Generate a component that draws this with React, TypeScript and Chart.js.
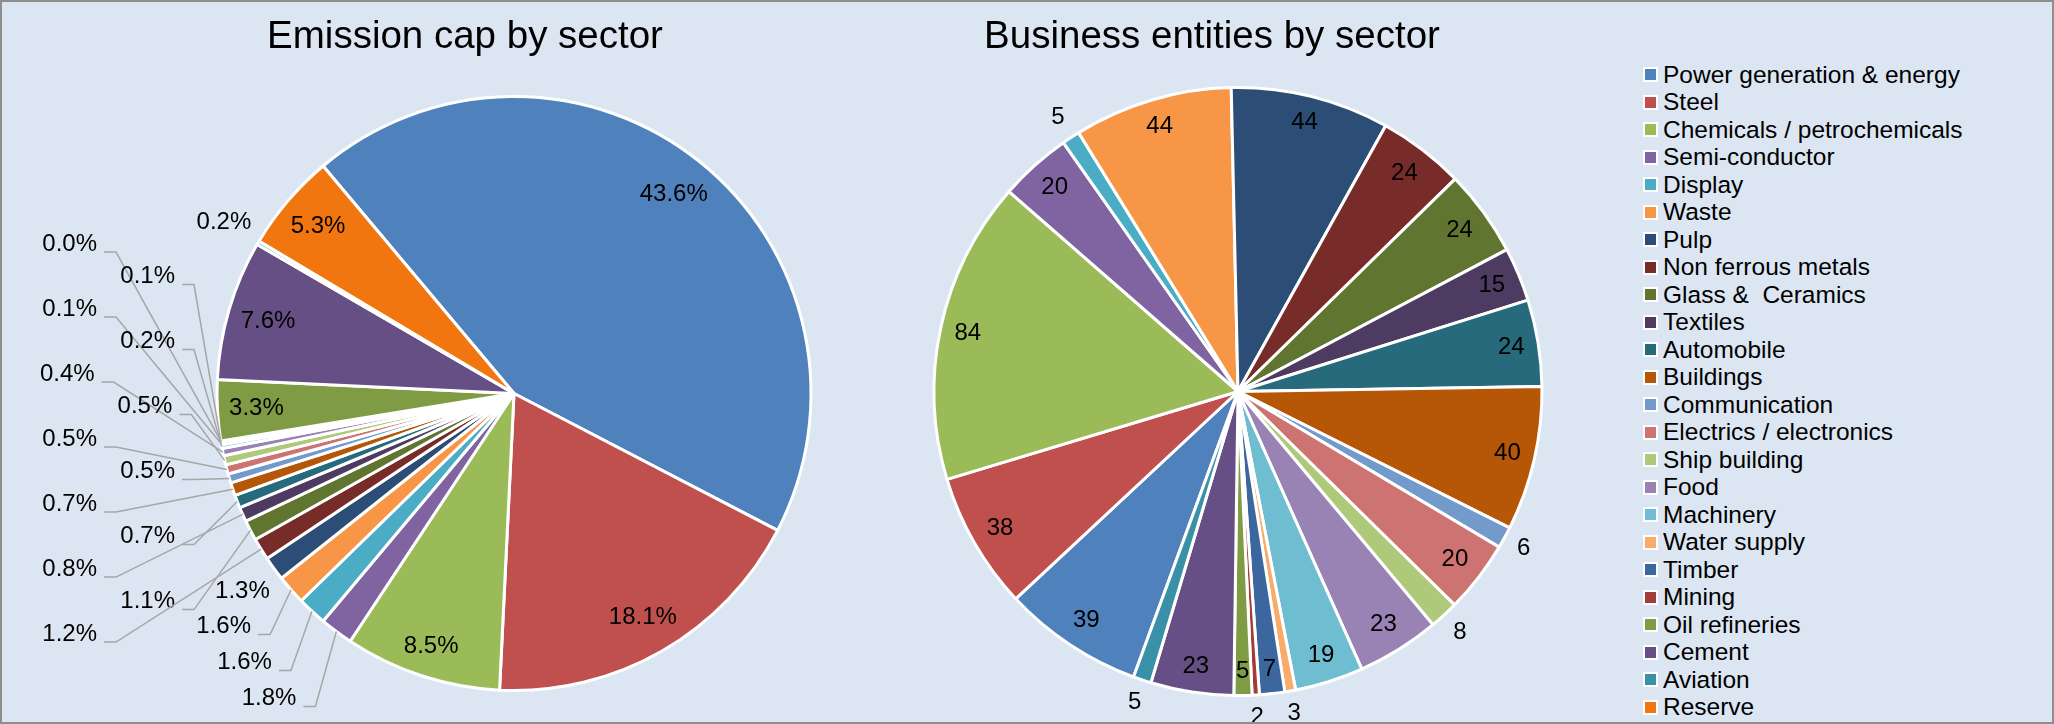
import React, { useEffect, useRef } from 'react';
import { Chart, registerables } from 'chart.js';

Chart.register(...registerables);

// ---------- data ----------
const sectors = [
  'Power generation & energy',
  'Steel',
  'Chemicals / petrochemicals',
  'Semi-conductor',
  'Display',
  'Waste',
  'Pulp',
  'Non ferrous metals',
  'Glass &  Ceramics',
  'Textiles',
  'Automobile',
  'Buildings',
  'Communication',
  'Electrics / electronics',
  'Ship building',
  'Food',
  'Machinery',
  'Water supply',
  'Timber',
  'Mining',
  'Oil refineries',
  'Cement',
  'Aviation',
  'Reserve',
];

// Emission cap share by sector (%)
const capSharePct = [
  43.6, 18.1, 8.5, 1.8, 1.6, 1.6, 1.3, 1.2, 1.1, 0.8, 0.7, 0.7,
  0.5, 0.5, 0.5, 0.4, 0.2, 0.1, 0.1, 0.0, 3.3, 7.6, 0.2, 5.3,
];

// Number of business entities by sector
const entityCounts = [
  39, 38, 84, 20, 5, 44, 44, 24, 24, 15, 24, 40,
  6, 20, 8, 23, 19, 3, 7, 2, 5, 23, 5, 0,
];

const chartTitles = ['Emission cap by sector', 'Business entities by sector'];

// ---------- styles ----------
const sectorColors = [
  '#4F81BD', '#C0504D', '#9BBB59', '#8064A2', '#4BACC6', '#F79646',
  '#2C4D75', '#772C2A', '#5F7530', '#4D3B62', '#276A7C', '#B65708',
  '#729ACA', '#CD7371', '#AFC97A', '#9983B5', '#6FBDD1', '#F9AB6B',
  '#3B679E', '#A33B38', '#7F9C45', '#654F85', '#3891A7', '#F2760F',
];

type Placement = 'in' | 'out' | 'leader' | 'none';

const capPlacements: Placement[] = [
  'in', 'in', 'in', 'leader', 'leader', 'leader', 'out', 'leader', 'leader', 'leader', 'leader', 'leader',
  'leader', 'leader', 'leader', 'leader', 'leader', 'leader', 'leader', 'leader', 'in', 'in', 'out', 'in',
];
const entityPlacements: Placement[] = [
  'in', 'in', 'in', 'in', 'out', 'in', 'in', 'in', 'in', 'in', 'in', 'in',
  'out', 'in', 'out', 'in', 'in', 'out', 'in', 'out', 'in', 'in', 'out', 'none',
];

const FONT = '"Liberation Sans", Arial, Helvetica, sans-serif';
const BG = '#DCE6F2';

interface LabelSettings {
  placements: Placement[];
  decimals: number;
  suffix: string;
  fontSize: number;
  insideMargin: number;
  outsideGap: number;
  title: string;
  titleX: number;
  titleY: number;
  titleSize: number;
}

// leader-label layout (left side of a pie)
const leaderLayout = {
  belowThreshold: 0.8, // anchors right of cx - 0.8R go to the lower stack
  sideOffset: 20,
  sideGap: 32.5,
  sideMaxFrac: 0.81,
  sideMargin: 45,
  sideEdgeGap: 42,
  sideColOffset: 78,
  belowDrop: 38,
  belowGap: 36,
  belowMaxBelow: 8,
  belowMargin: 40,
};

function stack(ys: number[], gap: number, maxY: number) {
  const n = ys.length;
  for (let k = 1; k < n; k++) ys[k] = Math.max(ys[k], ys[k - 1] + gap);
  if (n) ys[n - 1] = Math.min(ys[n - 1], maxY);
  for (let k = n - 2; k >= 0; k--) ys[k] = Math.min(ys[k], ys[k + 1] - gap);
  return ys;
}

function makeLabelPlugin(s: LabelSettings) {
  return {
    id: 'sectorLabels',
    afterDatasetsDraw(chart: any) {
      const ctx: CanvasRenderingContext2D = chart.ctx;
      const meta = chart.getDatasetMeta(0);
      const values: number[] = chart.data.datasets[0].data;
      ctx.save();
      ctx.fillStyle = '#000';
      ctx.textBaseline = 'middle';
      ctx.font = `${s.fontSize}px ${FONT}`;
      const h = s.fontSize;
      const leaders: any[] = [];
      meta.data.forEach((arc: any, i: number) => {
        const p = s.placements[i] || 'none';
        if (p === 'none') return;
        const { x, y, startAngle, endAngle, outerRadius } = arc.getProps(
          ['x', 'y', 'startAngle', 'endAngle', 'outerRadius'],
          true
        );
        const mid = (startAngle + endAngle) / 2;
        const c = Math.cos(mid);
        const sn = Math.sin(mid);
        const text = Number(values[i]).toFixed(s.decimals) + s.suffix;
        const w = ctx.measureText(text).width;
        const ext = (Math.abs(c) * w) / 2 + (Math.abs(sn) * h) / 2;
        ctx.textAlign = 'center';
        if (p === 'in') {
          const r = outerRadius - s.insideMargin - ext;
          ctx.fillText(text, x + c * r, y + sn * r);
        } else if (p === 'out') {
          const r = outerRadius + s.outsideGap + ext;
          ctx.fillText(text, x + c * r, y + sn * r);
        } else {
          leaders.push({
            i,
            text,
            cx: x,
            cy: y,
            R: outerRadius,
            ax: x + c * outerRadius,
            ay: y + sn * outerRadius,
            ty: y + sn * (outerRadius + leaderLayout.sideOffset),
          });
        }
      });
      if (leaders.length) {
        const L = leaderLayout;
        const { cx, cy, R } = leaders[0];
        const below = leaders.filter((l) => l.ax > cx - L.belowThreshold * R).sort((a, b) => a.ay - b.ay);
        const side = leaders
          .filter((l) => l.ax <= cx - L.belowThreshold * R)
          .sort((a, b) => a.ty - b.ty || b.i - a.i);
        const sideY = stack(side.map((l) => l.ty), L.sideGap, cy + L.sideMaxFrac * R);
        const belowY = stack(below.map((l) => l.ay + L.belowDrop), L.belowGap, cy + R + L.belowMaxBelow);
        const placed: any[] = [];
        side.forEach((l, k) => {
          const y = sideY[k];
          const dy = y - cy;
          const ex = Math.abs(dy) < R ? cx - Math.sqrt(R * R - dy * dy) : cx;
          const base = Math.min(ex, l.ax);
          const inner = Math.min(base - L.sideMargin, cx - R - L.sideEdgeGap);
          const right = inner - (k % 2 === 0 ? L.sideColOffset : 0);
          placed.push({ l, y, right });
        });
        below.forEach((l, k) => {
          placed.push({ l, y: belowY[k], right: l.ax - L.belowMargin });
        });
        ctx.strokeStyle = '#A6A6A6';
        ctx.lineWidth = 1.5;
        ctx.textAlign = 'right';
        placed.forEach(({ l, y, right }) => {
          ctx.fillText(l.text, right, y);
          const yb = y + 8;
          ctx.beginPath();
          ctx.moveTo(right + 7, yb);
          ctx.lineTo(right + 19, yb);
          ctx.lineTo(l.ax, l.ay);
          ctx.stroke();
        });
      }
      ctx.font = `${s.titleSize}px ${FONT}`;
      ctx.textBaseline = 'alphabetic';
      ctx.textAlign = 'center';
      ctx.fillText(s.title, s.titleX, s.titleY);
      ctx.restore();
    },
  };
}

interface PieProps {
  values: number[];
  left: number;
  width: number;
  height: number;
  rotation: number;
  radius: number;
  padding: { left: number; right: number; top: number; bottom: number };
  labels: LabelSettings;
}

function SectorPie(props: PieProps) {
  const ref = useRef<HTMLCanvasElement | null>(null);
  useEffect(() => {
    if (!ref.current) return;
    const chart = new Chart(ref.current, {
      type: 'pie',
      data: {
        labels: sectors,
        datasets: [
          {
            data: props.values,
            backgroundColor: sectorColors,
            borderColor: '#FFFFFF',
            borderWidth: 3,
          },
        ],
      },
      options: {
        animation: false,
        responsive: false,
        rotation: props.rotation,
        radius: props.radius,
        layout: { padding: props.padding },
        plugins: {
          legend: { display: false },
          title: { display: false },
          tooltip: { enabled: false },
        },
      },
      plugins: [makeLabelPlugin(props.labels)],
    } as any);
    return () => chart.destroy();
  }, []);
  return (
    <div
      style={{
        position: 'absolute',
        left: props.left,
        top: 0,
        width: props.width,
        height: props.height,
      }}
    >
      <canvas
        ref={ref}
        width={props.width}
        height={props.height}
        style={{ width: props.width, height: props.height, display: 'block' }}
      />
    </div>
  );
}

const commonLabels = {
  fontSize: 24,
  titleY: 48,
  titleSize: 38.5,
};

export default function App() {
  useEffect(() => {
    document.body.style.margin = '0';
  }, []);
  return (
    <div
      style={{
        position: 'relative',
        width: 2054,
        height: 724,
        background: BG,
        overflow: 'hidden',
        fontFamily: FONT,
      }}
    >
      <SectorPie
        values={capSharePct}
        left={0}
        width={880}
        height={722}
        rotation={-40}
        radius={297}
        padding={{ left: 148, right: 0, top: 65, bottom: 0 }}
        labels={{
          ...commonLabels,
          placements: capPlacements,
          decimals: 1,
          suffix: '%',
          insideMargin: 11,
          outsideGap: 10,
          title: chartTitles[0],
          titleX: 465,
        }}
      />
      <SectorPie
        values={entityCounts}
        left={880}
        width={760}
        height={722}
        rotation={-159.9}
        radius={304}
        padding={{ left: 0, right: 44, top: 61, bottom: 0 }}
        labels={{
          ...commonLabels,
          placements: entityPlacements,
          decimals: 0,
          suffix: '',
          insideMargin: 12,
          outsideGap: 10,
          title: chartTitles[1],
          titleX: 332,
        }}
      />
      <div style={{ position: 'absolute', left: 1643, top: 60.75 }}>
        {sectors.map((name, i) => (
          <div
            key={name}
            style={{ display: 'flex', alignItems: 'center', height: 27.5, whiteSpace: 'pre' }}
          >
            <div
              style={{
                width: 15,
                height: 15,
                boxSizing: 'border-box',
                border: '2.5px solid #FFFFFF',
                background: sectorColors[i],
                marginRight: 5,
              }}
            />
            <span style={{ fontSize: 24.5, color: '#000', lineHeight: '27.5px' }}>{name}</span>
          </div>
        ))}
      </div>
      <div
        style={{
          position: 'absolute',
          left: 0,
          top: 0,
          width: 2054,
          height: 724,
          boxSizing: 'border-box',
          border: '2px solid #8E8E8E',
          pointerEvents: 'none',
        }}
      />
    </div>
  );
}
